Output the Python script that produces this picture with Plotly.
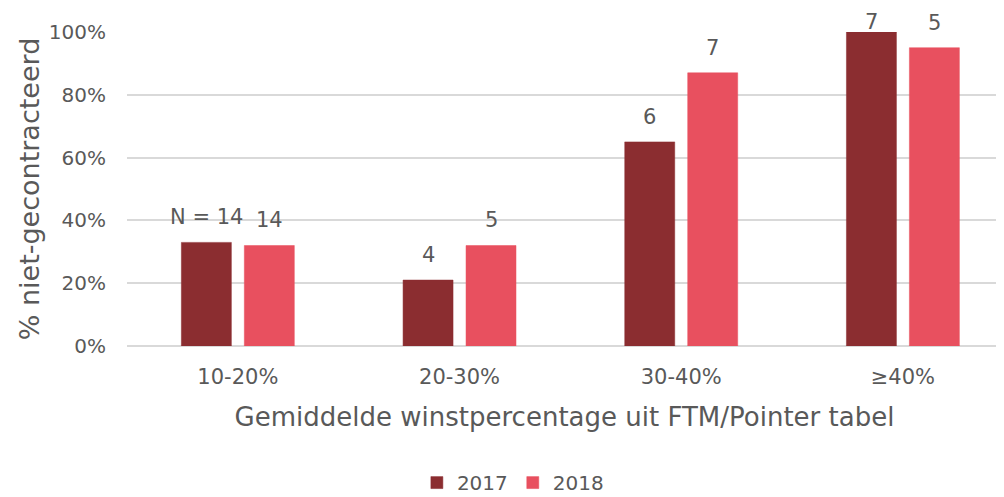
import plotly.graph_objects as go

categories = ["10-20%", "20-30%", "30-40%", "≥40%"]
years = ["2017", "2018"]
values_2017 = [33, 21, 65, 100]
values_2018 = [32, 32, 87, 95]
labels_2017 = ["N = 14", "4", "6", "7"]
labels_2018 = ["14", "5", "7", "5"]
colors = {"2017": "#8B2D30", "2018": "#E8505F"}

FONT = "DejaVu Sans"
GREY = "#595959"

fig = go.Figure()
for yr, vals in zip(years, [values_2017, values_2018]):
    fig.add_trace(go.Bar(
        name=yr, x=categories, y=vals,
        marker=dict(color=colors[yr], line=dict(color=colors[yr], width=0.5)),
        hoverinfo="skip",
    ))

annotations = []
for i, cat in enumerate(categories):
    for vals, labs, shift in [(values_2017, labels_2017, -31.5),
                              (values_2018, labels_2018, 31.5)]:
        annotations.append(dict(
            x=cat, y=min(vals[i] + 8, 103.2) / 100, xref="x", yref="paper",
            text=labs[i], showarrow=False, xshift=shift,
            yanchor="middle", xanchor="center",
            font=dict(family=FONT, size=21, color=GREY),
        ))

# page body has an 8px margin, so the figure is sized to fit the window
fig.update_layout(
    width=996, height=489,
    margin=dict(l=119, r=2, t=24, b=151, autoexpand=False),
    paper_bgcolor="white", plot_bgcolor="white",
    barmode="group", bargap=0.432, bargroupgap=0.206,
    font=dict(family=FONT, color=GREY, size=20),
    showlegend=True,
    legend=dict(orientation="h", x=0.441, y=-0.435, xanchor="center", yanchor="middle",
                font=dict(family=FONT, size=20, color=GREY), itemwidth=30,
                traceorder="normal"),
    annotations=annotations,
)
fig.update_xaxes(
    range=[-0.5, 3.447], showgrid=False, showline=False, zeroline=False,
    automargin=False,
    ticks="outside", ticklen=12, tickcolor="rgba(0,0,0,0)",
    tickfont=dict(family=FONT, size=21, color=GREY),
    title=dict(text="Gemiddelde winstpercentage uit FTM/Pointer tabel",
               font=dict(family=FONT, size=26, color=GREY), standoff=19),
)
fig.update_yaxes(
    range=[0, 100], tickvals=[0, 20, 40, 60, 80, 100],
    ticktext=["0%", "20%", "40%", "60%", "80%", "100%"],
    automargin=False,
    showgrid=True, gridcolor="#D9D9D9", gridwidth=1.5,
    zeroline=True, zerolinecolor="#D9D9D9", zerolinewidth=1.5,
    showline=False, ticks="outside", ticklen=16, tickcolor="rgba(0,0,0,0)",
    tickfont=dict(family=FONT, size=20, color=GREY),
    title=dict(text="% niet-gecontracteerd",
               font=dict(family=FONT, size=27, color=GREY), standoff=1),
)

fig.write_html("out.html")
